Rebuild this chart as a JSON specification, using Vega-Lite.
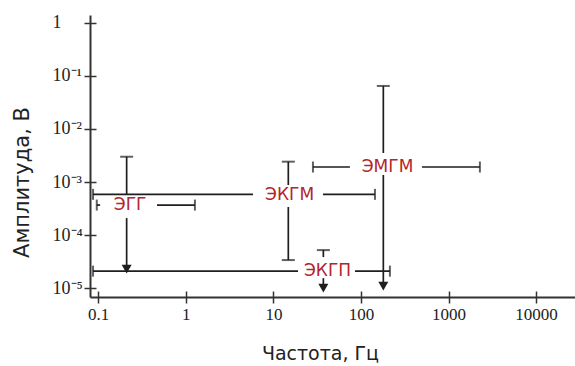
{
  "$schema": "https://vega.github.io/schema/vega-lite/v6.json",
  "width": 485,
  "height": 282,
  "autosize": {"type": "none"},
  "padding": {"left": 90, "top": 15, "right": 0, "bottom": 69},
  "background": "white",
  "config": {"view": {"stroke": null}},
  "datasets": {
    "hseg": [
      {"signal": "ЭГГ", "x": 0.0962, "x2": 0.105, "y": 0.000368},
      {"signal": "ЭГГ", "x": 0.469, "x2": 1.27, "y": 0.000368},
      {"signal": "ЭКГМ", "x": 0.0872, "x2": 5.85, "y": 0.000586},
      {"signal": "ЭКГМ", "x": 36.8, "x2": 144.5, "y": 0.000586},
      {"signal": "ЭМГМ", "x": 28.3, "x2": 74.8, "y": 0.00192},
      {"signal": "ЭМГМ", "x": 497, "x2": 2280, "y": 0.00192},
      {"signal": "ЭКГП", "x": 0.0872, "x2": 19.1, "y": 0.0000209},
      {"signal": "ЭКГП", "x": 85.5, "x2": 214, "y": 0.0000209}
    ],
    "vseg": [
      {"signal": "ЭГГ", "x": 0.211, "y": 0.0030, "y2": 0.000569},
      {"signal": "ЭГГ", "x": 0.211, "y": 0.000209, "y2": 0.0000228},
      {"signal": "ЭКГМ", "x": 14.8, "y": 0.00242, "y2": 0.000878},
      {"signal": "ЭКГМ", "x": 14.8, "y": 0.000338, "y2": 0.0000338},
      {"signal": "ЭМГМ", "x": 180, "y": 0.0648, "y2": 0.00353},
      {"signal": "ЭМГМ", "x": 180, "y": 0.00136, "y2": 0.0000109},
      {"signal": "ЭКГП", "x": 37.2, "y": 0.0000521, "y2": 0.0000385},
      {"signal": "ЭКГП", "x": 37.2, "y": 0.0000154, "y2": 0.0000100}
    ],
    "hcaps": [
      {"signal": "ЭГГ", "x": 0.0962, "y": 0.000368},
      {"signal": "ЭГГ", "x": 1.27, "y": 0.000368},
      {"signal": "ЭКГМ", "x": 0.0872, "y": 0.000586},
      {"signal": "ЭКГМ", "x": 144.5, "y": 0.000586},
      {"signal": "ЭМГМ", "x": 28.3, "y": 0.00192},
      {"signal": "ЭМГМ", "x": 2280, "y": 0.00192},
      {"signal": "ЭКГП", "x": 0.0872, "y": 0.0000209},
      {"signal": "ЭКГП", "x": 214, "y": 0.0000209}
    ],
    "vcaps": [
      {"signal": "ЭГГ", "x": 0.211, "y": 0.0030},
      {"signal": "ЭКГМ", "x": 14.8, "y": 0.00242},
      {"signal": "ЭКГМ", "x": 14.8, "y": 0.0000338},
      {"signal": "ЭМГМ", "x": 180, "y": 0.0648},
      {"signal": "ЭКГП", "x": 37.2, "y": 0.0000521}
    ],
    "arrows": [
      {"signal": "ЭГГ", "x": 0.211, "y": 0.0000228},
      {"signal": "ЭМГМ", "x": 180, "y": 0.0000109},
      {"signal": "ЭКГП", "x": 37.2, "y": 0.0000100}
    ],
    "labels": [
      {"signal": "ЭГГ", "x": 0.231, "y": 0.000368},
      {"signal": "ЭКГМ", "x": 15.3, "y": 0.00057},
      {"signal": "ЭМГМ", "x": 201, "y": 0.00192},
      {"signal": "ЭКГП", "x": 41.5, "y": 0.0000209}
    ]
  },
  "resolve": {"axis": {"x": "independent", "y": "independent"}},
  "layer": [
    {
      "data": {"name": "hseg"},
      "mark": {"type": "rule", "color": "#1e1e1e", "strokeWidth": 1.7},
      "encoding": {
        "x": {
          "field": "x", "type": "quantitative",
          "scale": {"type": "log", "domain": [0.0805, 27800], "nice": false, "zero": false},
          "axis": {
            "orient": "bottom",
            "values": [0.1, 1, 10, 100, 1000, 10000],
            "labelExpr": "datum.value < 1 ? '0.1' : format(datum.value, 'd')",
            "labelFont": "Liberation Serif", "labelFontSize": 17, "labelColor": "#222",
            "labelPadding": 3,
            "tickSize": 6, "tickWidth": 1.5, "tickColor": "#333",
            "domainWidth": 2, "domainColor": "#333",
            "grid": false,
            "title": "Частота, Гц",
            "titleFont": "DejaVu Sans", "titleFontSize": 19, "titleFontWeight": "normal",
            "titleColor": "#222", "titleX": 230, "titleY": 56, "titleBaseline": "middle"
          }
        },
        "x2": {"field": "x2"},
        "y": {
          "field": "y", "type": "quantitative",
          "scale": {"type": "log", "domain": [0.0000068, 1.41], "nice": false, "zero": false},
          "axis": {
            "orient": "left",
            "values": [1, 0.1, 0.01, 0.001, 0.0001, 0.00001],
            "labelExpr": "['1','10⁻¹','10⁻²','10⁻³','10⁻⁴','10⁻⁵'][-round(log(datum.value)/LN10)]",
            "labelFont": "Liberation Serif", "labelFontSize": 18, "labelColor": "#222",
            "labelAlign": "left", "labelPadding": 32,
            "tickSize": 6, "tickWidth": 1.5, "tickColor": "#333",
            "domainWidth": 2, "domainColor": "#333",
            "grid": false,
            "title": "Амплитуда, В",
            "titleFont": "DejaVu Sans", "titleFontSize": 21, "titleFontWeight": "normal",
            "titleColor": "#222", "titleX": -68, "titleY": 167, "titleBaseline": "middle"
          }
        }
      }
    },
    {
      "data": {"name": "vseg"},
      "mark": {"type": "rule", "color": "#1e1e1e", "strokeWidth": 1.7},
      "encoding": {
        "x": {
          "field": "x", "type": "quantitative",
          "axis": {"orient": "bottom", "offset": -6, "values": [0.1, 1, 10, 100, 1000, 10000], "labels": false, "domain": false, "grid": false, "title": null, "tickSize": 6, "tickWidth": 1.5, "tickColor": "#333"}
        },
        "y": {
          "field": "y", "type": "quantitative",
          "axis": {"orient": "left", "offset": -6, "values": [1, 0.1, 0.01, 0.001, 0.0001, 0.00001], "labels": false, "domain": false, "grid": false, "title": null, "tickSize": 6, "tickWidth": 1.5, "tickColor": "#333"}
        },
        "y2": {"field": "y2"}
      }
    },
    {
      "data": {"name": "hcaps"},
      "mark": {"type": "tick", "orient": "vertical", "size": 11, "thickness": 2, "color": "#1e1e1e"},
      "encoding": {
        "x": {"field": "x", "type": "quantitative", "axis": null},
        "y": {"field": "y", "type": "quantitative", "axis": null}
      }
    },
    {
      "data": {"name": "vcaps"},
      "mark": {"type": "tick", "orient": "horizontal", "size": 13, "thickness": 2, "color": "#1e1e1e"},
      "encoding": {
        "x": {"field": "x", "type": "quantitative", "axis": null},
        "y": {"field": "y", "type": "quantitative", "axis": null}
      }
    },
    {
      "data": {"name": "arrows"},
      "mark": {"type": "point", "shape": "triangle-down", "filled": true, "size": 100, "color": "#1e1e1e", "opacity": 1},
      "encoding": {
        "x": {"field": "x", "type": "quantitative", "axis": null},
        "y": {"field": "y", "type": "quantitative", "axis": null}
      }
    },
    {
      "data": {"name": "labels"},
      "mark": {"type": "text", "font": "DejaVu Sans", "fontSize": 17, "color": "#b3262b", "baseline": "middle", "align": "center"},
      "encoding": {
        "x": {"field": "x", "type": "quantitative", "axis": null},
        "y": {"field": "y", "type": "quantitative", "axis": null},
        "text": {"field": "signal"}
      }
    }
  ]
}
